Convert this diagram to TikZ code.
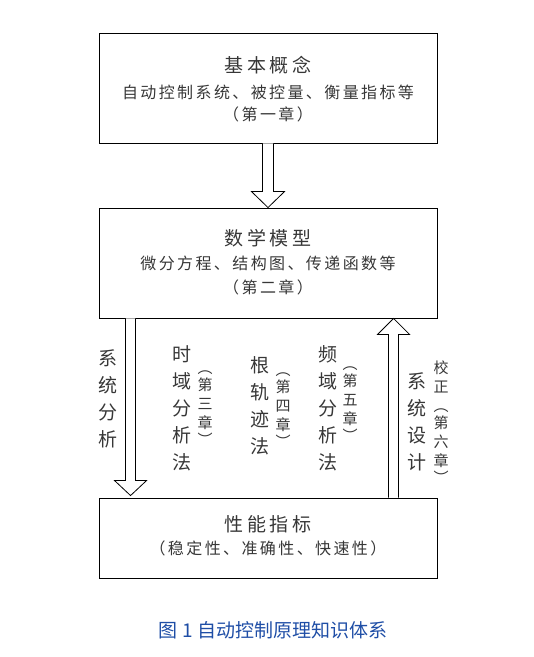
\documentclass[tikz,border=0pt]{standalone}
\usepackage{fontspec}
\setmainfont{Noto Sans CJK SC}
\newfontfamily\titlefont[LetterSpace=20]{Noto Sans CJK SC}
\newfontfamily\subfont[LetterSpace=15]{Noto Sans CJK SC}
\newfontfamily\capfont{Noto Sans CJK SC}
\usetikzlibrary{calc}
\definecolor{txtgray}{RGB}{55,55,55}
\definecolor{capblue}{RGB}{31,78,166}
\newcommand\fsz[2]{\fontsize{#1}{#2}\selectfont}
\tikzset{
  box/.style={draw=black, line width=0.9pt, minimum width=338pt, inner sep=0pt},
  ttl/.style={text=txtgray, font=\titlefont\fsz{19}{22}, inner sep=0pt},
  sub/.style={text=txtgray, font=\subfont\fsz{16}{19}, inner sep=0pt},
  bigcol/.style={text=txtgray, font=\fsz{19}{27}, align=center, inner sep=0pt},
  smallcol/.style={text=txtgray, font=\fsz{15}{19}, align=center, inner sep=0pt},
  blockarrow/.style={draw=black, line width=0.8pt, fill=white, line join=miter},
}
\begin{document}
\begin{tikzpicture}[x=1pt,y=-1pt]
\useasboundingbox (0,0) rectangle (534,657);
% boxes
\node[box, minimum height=110pt] (b1) at (268,88) {};
\node[box, minimum height=110pt] (b2) at (268,263) {};
\node[box, minimum height=80pt] (b3) at (268,538) {};
% box texts
\node[ttl] (t1) at (268,65) {基本概念};
\node[sub] (s1) at (268,92) {自动控制系统、被控量、衡量指标等};
\node[sub] (c1) at (268,114) {（第一章）};
\node[ttl] (t2) at (268,238) {数学模型};
\node[sub] (s2) at (268,263) {微分方程、结构图、传递函数等};
\node[sub] (c2) at (268,287) {（第二章）};
\node[ttl] (t3) at (268,524) {性能指标};
\node[sub] (s3) at (268,548) {（稳定性、准确性、快速性）};
% arrow 1
\draw[blockarrow] ($(b1.south)+(-5.5,0)$) -- ($(b2.north)+(-5.5,-16)$) -- ($(b2.north)+(-16.5,-16)$)
  -- (b2.north) -- ($(b2.north)+(16.5,-16)$) -- ($(b2.north)+(5.5,-16)$) -- ($(b1.south)+(5.5,0)$);
% arrow 2 (system analysis, down)
\coordinate (a2s) at ($(b2.south west)+(32,0)$);
\coordinate (a2e) at ($(b3.north west)+(32,-2)$);
\draw[blockarrow] ($(a2s)+(-5,0)$) -- ($(a2e)+(-5,-15)$) -- ($(a2e)+(-16,-15)$)
  -- (a2e) -- ($(a2e)+(16,-15)$) -- ($(a2e)+(5,-15)$) -- ($(a2s)+(5,0)$);
% arrow 3 (system design, up)
\coordinate (a3s) at ($(b3.north west)+(295,0)$);
\coordinate (a3e) at ($(b2.south west)+(295,0)$);
\draw[blockarrow] ($(a3s)+(-5,0)$) -- ($(a3e)+(-5,16)$) -- ($(a3e)+(-16,16)$)
  -- (a3e) -- ($(a3e)+(16,16)$) -- ($(a3e)+(5,16)$) -- ($(a3s)+(5,0)$);
% vertical texts
\node[bigcol] (sa) at (108,399) {系\\统\\分\\析};
\node[bigcol] (sd) at (417,422) {系\\统\\设\\计};
\node[bigcol] (m1) at (182,408) {时\\域\\分\\析\\法};
\node[smallcol] (n1) at (205,408) {︵\\[-2pt]第\\三\\章\\[-2pt]︶};
\node[bigcol] (m2) at (260,406) {根\\轨\\迹\\法};
\node[smallcol] (n2) at (283,410) {︵\\[-2pt]第\\四\\章\\[-2pt]︶};
\node[bigcol] (m3) at (328,408) {频\\域\\分\\析\\法};
\node[smallcol] (n3) at (350,404) {︵\\[-2pt]第\\五\\章\\[-2pt]︶};
\node[smallcol] (n4) at (441,422) {校\\正\\︵\\[-2pt]第\\六\\章\\[-2pt]︶};
% caption
\node[text=capblue, font=\capfont\fsz{19}{22}, inner sep=0pt] (cap) at (273,630) {图 1 自动控制原理知识体系};
\end{tikzpicture}
\end{document}
